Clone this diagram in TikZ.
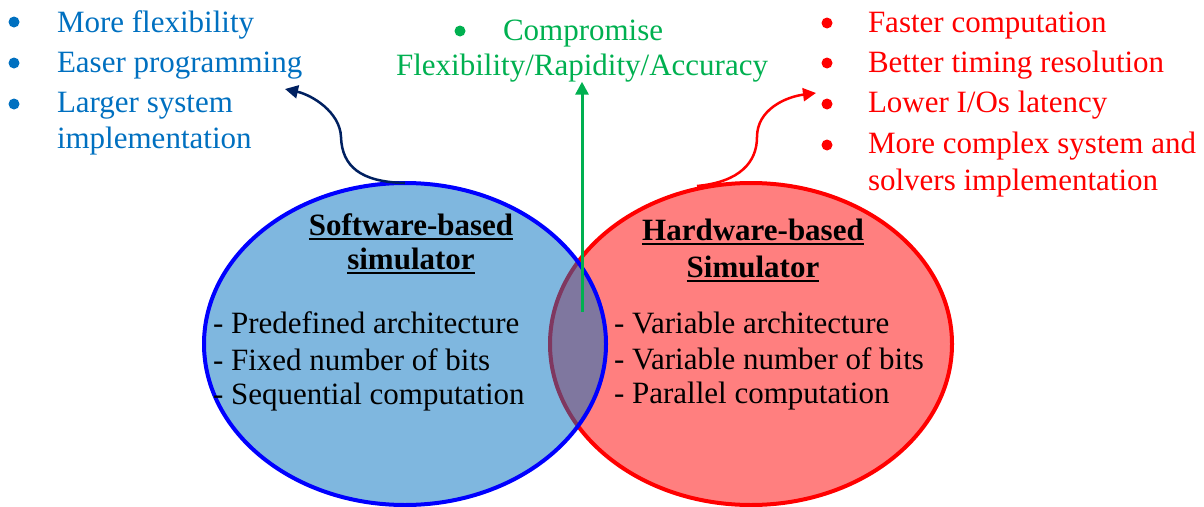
\documentclass[tikz,border=0pt]{standalone}
\usepackage{fontspec}
\setmainfont{Liberation Serif}
\usetikzlibrary{shapes.geometric,arrows.meta}
\definecolor{swblue}{RGB}{0,112,192}
\definecolor{hwred}{RGB}{255,0,0}
\definecolor{cgreen}{RGB}{0,176,80}
\definecolor{navyline}{RGB}{0,32,96}
% heavier underline for the titles
\newcommand\titleline[1]{\vtop{\hbox{#1}\kern 3pt\hrule height 1.8pt}}
\begin{document}
\begin{tikzpicture}[x=1pt,y=-1pt,
  every node/.style={inner sep=0pt,outer sep=0pt},
  txt/.style={font=\fontsize{31}{36}\selectfont,anchor=base west},
  ttl/.style={font=\fontsize{31}{36}\selectfont\bfseries,anchor=base},
  bul/.style={circle,fill,minimum size=11pt},
  simbox/.style={ellipse,minimum width=402pt,minimum height=322pt,line width=4pt},
  linkarrow/.style={line width=2.5pt,-{Triangle[length=13pt,width=13pt]}}]
\useasboundingbox (0,0) rectangle (1204,506);

% the two simulator families
\node[simbox,draw=hwred,fill=hwred,fill opacity=0.5,draw opacity=1] (hw) at (751,344) {};
\node[simbox,draw=blue,fill=swblue,fill opacity=0.5,draw opacity=1] (sw) at (405,344) {};

% software-based simulator
\node[ttl] (swt1) at (411,235) {\titleline{Software-based}};
\node[ttl] (swt2) at (411,269) {\titleline{simulator}};
\node[txt] (sw1) at (213,333) {- Predefined architecture};
\node[txt] (sw2) at (213,370) {- Fixed number of bits};
\node[txt] (sw3) at (213,404) {- Sequential computation};

% hardware-based simulator
\node[ttl] (hwt1) at (753,240) {\titleline{Hardware-based}};
\node[ttl] (hwt2) at (753,277) {\titleline{Simulator}};
\node[txt] (hw1) at (614,333) {- Variable architecture};
\node[txt] (hw2) at (614,369) {- Variable number of bits};
\node[txt] (hw3) at (614,403) {- Parallel computation};

% software advantages
\node[bul,swblue] (lb1) at (14,22) {};
\node[bul,swblue] (lb2) at (14,63) {};
\node[bul,swblue] (lb3) at (14,104) {};
\node[txt,swblue] (l1) at (57,32) {More flexibility};
\node[txt,swblue] (l2) at (57,72) {Easer programming};
\node[txt,swblue] (l3) at (57,112) {Larger system};
\node[txt,swblue] (l4) at (57,148) {implementation};

% compromise
\node[bul,cgreen] (gb) at (460,31) {};
\node[txt,cgreen] (g1) at (503,40) {Compromise};
\node[txt,cgreen,anchor=base] (g2) at (582,75) {Flexibility/Rapidity/Accuracy};

% hardware advantages
\node[bul,hwred] (rb1) at (827,23) {};
\node[bul,hwred] (rb2) at (827,63) {};
\node[bul,hwred] (rb3) at (827,104) {};
\node[bul,hwred] (rb4) at (827,145) {};
\node[txt,hwred] (r1) at (868,32) {Faster computation};
\node[txt,hwred] (r2) at (868,72) {Better timing resolution};
\node[txt,hwred] (r3) at (868,112) {Lower I/Os latency};
\node[txt,hwred] (r4) at (868,153) {More complex system and};
\node[txt,hwred] (r5) at (868,190) {solvers implementation};

% connectors
\coordinate (gs) at (582,312);
\coordinate (navyend) at (285,89);
\coordinate (redend) at (816,93);
\draw[linkarrow,cgreen,line width=3pt] (gs) -- (gs |- g2.south);
\draw[linkarrow,navyline] (sw.north) .. controls (360,182) and (342,166) .. (341,137)
  .. controls (340,112) and (312,95) .. (navyend);
\draw[linkarrow,hwred] ([xshift=-54pt]hw.north) ++(0,3) .. controls (740,182) and (757,162) .. (757,137)
  .. controls (757,110) and (785,97) .. (redend);
\end{tikzpicture}
\end{document}
